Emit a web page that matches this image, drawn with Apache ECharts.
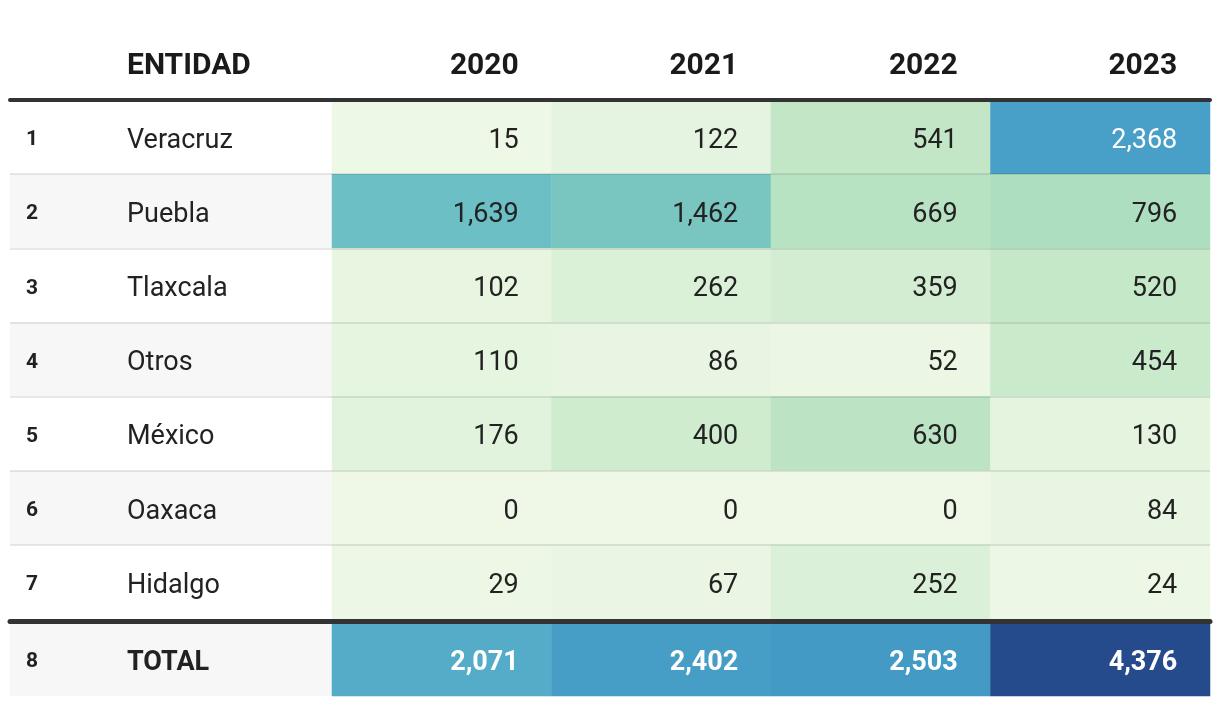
<!DOCTYPE html>
<html>
<head>
<meta charset="utf-8">
<script src="https://cdn.jsdelivr.net/npm/echarts@6/dist/echarts.min.js"></script>
<style>
html,body{margin:0;padding:0;background:#fff;}
#chart{width:1220px;height:706px;}
</style>
</head>
<body>
<div id="chart"></div>
<script>
const headerEntity = 'ENTIDAD';
const years = ['2020', '2021', '2022', '2023'];
const entities = ['Veracruz', 'Puebla', 'Tlaxcala', 'Otros', 'México', 'Oaxaca', 'Hidalgo'];
const ranks = [1, 2, 3, 4, 5, 6, 7];
const v2020 = [15, 1639, 102, 110, 176, 0, 29];
const v2021 = [122, 1462, 262, 86, 400, 0, 67];
const v2022 = [541, 669, 359, 52, 630, 0, 252];
const v2023 = [2368, 796, 520, 454, 130, 84, 24];
const totalNames = ['TOTAL'];
const totalRanks = [8];
const totals = [2071, 2402, 2503, 4376];

const FONT = 'Roboto';
const TXT = '#222';
const fmt = v => Number(v).toLocaleString('en-US');

const cols = [v2020, v2021, v2022, v2023];
const bodyData = [];
cols.forEach((col, xi) => col.forEach((v, yi) => {
  bodyData.push({ value: [xi, yi, v], label: { color: v >= 2000 ? '#fff' : TXT } });
}));
const totalData = totals.map((v, xi) => ({ value: [xi, 0, v], label: { color: v >= 2000 ? '#fff' : TXT } }));

function makeLabelRender(names, rankArr, bold, offset) {
  return function (params, api) {
    const i = params.dataIndex;
    const cs = params.coordSys;
    const c = api.coord([0, api.value(1)]);
    const h = api.size([0, 1])[1];
    return {
      type: 'group',
      children: [
        { type: 'rect', shape: { x: cs.x, y: c[1] - h / 2, width: cs.width, height: h },
          style: { fill: (i + offset) % 2 === 1 ? '#f7f7f7' : '#ffffff' } },
        { type: 'text', x: cs.x + 16, y: c[1] + 3,
          style: { text: String(rankArr[i]), fontFamily: FONT, fontSize: 21, fontWeight: 'bold', fill: TXT,
                   align: 'left', verticalAlign: 'middle', textAlign: 'left', textVerticalAlign: 'middle' } },
        { type: 'text', x: cs.x + 117, y: c[1] + 4,
          style: { text: names[i], fontFamily: FONT, fontSize: 27, fontWeight: bold ? 'bold' : 'normal', fill: TXT,
                   align: 'left', verticalAlign: 'middle', textAlign: 'left', textVerticalAlign: 'middle' } }
      ]
    };
  };
}

const sepLine = { show: true, showMinLine: false, showMaxLine: false, lineStyle: { color: 'rgba(0,0,0,0.09)', width: 2 } };
const thick = w => ({ show: true, lineStyle: { color: '#333', width: w } });

const chart = echarts.init(document.getElementById('chart'), null, { renderer: 'canvas' });
chart.setOption({
  backgroundColor: '#fff',
  animation: false,
  title: {
    text: headerEntity, left: 127, top: 48, padding: 0,
    textStyle: { fontFamily: FONT, fontSize: 30, fontWeight: 'bold', color: '#1a1a1a', lineHeight: 36 }
  },
  grid: [
    { left: 10, top: 100, width: 322, height: 519 },
    { left: 332, top: 100, right: 10, height: 519 },
    { left: 10, top: 621.5, width: 322, height: 74.5 },
    { left: 332, top: 621.5, right: 10, height: 74.5 }
  ],
  xAxis: [
    { gridIndex: 0, type: 'value', min: 0, max: 1, position: 'top', z: 10,
      axisLine: thick(4), axisTick: { show: false }, axisLabel: { show: false }, splitLine: { show: false } },
    { gridIndex: 1, type: 'category', data: years, position: 'top', z: 10,
      axisLine: thick(4), axisTick: { show: false }, splitLine: { show: false },
      axisLabel: {
        margin: 16, align: 'center', formatter: v => '{h|' + v + '}',
        rich: { h: { width: 154, align: 'right', fontFamily: FONT, fontSize: 30, fontWeight: 'bold', color: '#1a1a1a', lineHeight: 36 } }
      } },
    { gridIndex: 2, type: 'value', min: 0, max: 1, position: 'top', z: 10,
      axisLine: thick(5), axisTick: { show: false }, axisLabel: { show: false }, splitLine: { show: false } },
    { gridIndex: 3, type: 'category', data: years, position: 'top', z: 10,
      axisLine: thick(5), axisTick: { show: false }, axisLabel: { show: false }, splitLine: { show: false } }
  ],
  yAxis: [
    { gridIndex: 0, type: 'category', data: entities, inverse: true, z: 5,
      axisLine: { show: false }, axisTick: { show: false }, axisLabel: { show: false }, splitLine: sepLine },
    { gridIndex: 1, type: 'category', data: entities, inverse: true, z: 5,
      axisLine: { show: false }, axisTick: { show: false }, axisLabel: { show: false }, splitLine: sepLine },
    { gridIndex: 2, type: 'category', data: totalNames, inverse: true,
      axisLine: { show: false }, axisTick: { show: false }, axisLabel: { show: false }, splitLine: { show: false } },
    { gridIndex: 3, type: 'category', data: totalNames, inverse: true,
      axisLine: { show: false }, axisTick: { show: false }, axisLabel: { show: false }, splitLine: { show: false } }
  ],
  visualMap: {
    show: false, type: 'continuous', min: 0, max: 4376, dimension: 2, seriesIndex: [1, 3],
    inRange: { color: ['#eff8e7', '#c3e7c6', '#93d3b9', '#6cc0c5', '#4fa7c9', '#3990c2', '#3179b0', '#2b619e', '#254b8c'] }
  },
  series: [
    { type: 'custom', xAxisIndex: 0, yAxisIndex: 0, data: entities.map((e, i) => [0, i]),
      encode: { x: 0, y: 1 }, renderItem: makeLabelRender(entities, ranks, false, 0), silent: true },
    { type: 'heatmap', xAxisIndex: 1, yAxisIndex: 1, data: bodyData, emphasis: { disabled: true },
      label: { show: true, position: 'insideRight', distance: 33, offset: [0, 4], formatter: p => fmt(p.value[2]),
               fontFamily: FONT, fontSize: 27, color: TXT } },
    { type: 'custom', xAxisIndex: 2, yAxisIndex: 2, data: totalNames.map((e, i) => [0, i]),
      encode: { x: 0, y: 1 }, renderItem: makeLabelRender(totalNames, totalRanks, true, 7), silent: true },
    { type: 'heatmap', xAxisIndex: 3, yAxisIndex: 3, data: totalData, emphasis: { disabled: true },
      label: { show: true, position: 'insideRight', distance: 33, offset: [0, 4], formatter: p => fmt(p.value[2]),
               fontFamily: FONT, fontSize: 27, fontWeight: 'bold', color: '#fff' } }
  ]
});
</script>
</body>
</html>
